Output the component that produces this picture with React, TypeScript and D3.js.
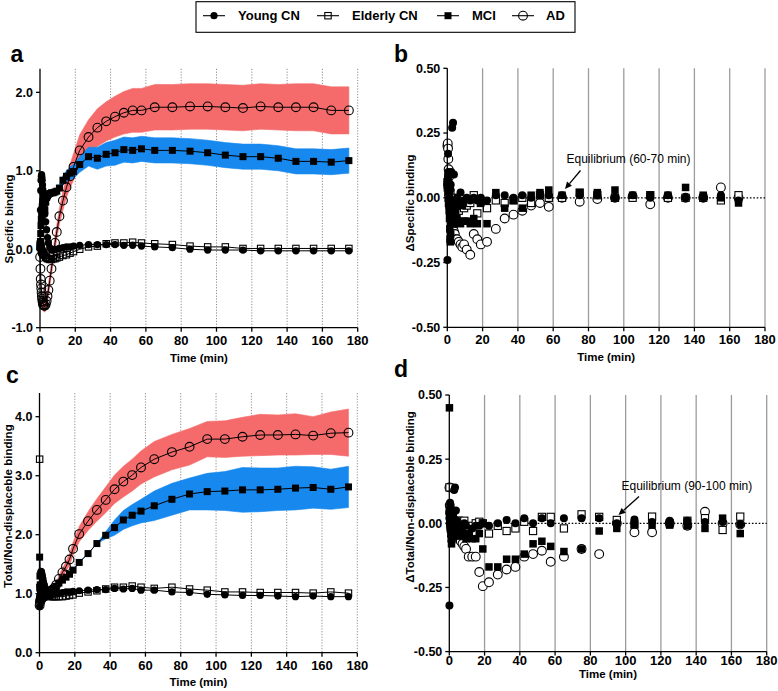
import React from 'react';
import * as d3 from 'd3';

// ---------- DATA ----------
const times = [0.08, 0.25, 0.42, 0.58, 0.75, 0.92, 1.08, 1.25, 1.42, 1.58, 1.75, 1.92,
  2.25, 2.75, 3.25, 3.75, 4.25, 4.75,
  5.5, 6.5, 7.5, 8.5, 9.5,
  11, 13, 15, 17, 19,
  22.5, 27.5, 32.5, 37.5, 42.5, 47.5, 52.5, 57.5,
  65, 75, 85, 95, 105, 115, 125, 135, 145, 155, 165, 175];
const deltaTimes = times.slice(0, 47);

const groups = ['Young CN', 'Elderly CN', 'MCI', 'AD'];
const xTicks = [0, 20, 40, 60, 80, 100, 120, 140, 160, 180];
const specTicks = [-1, 0, 1, 2];
const totTicks = [0, 1, 2, 3, 4];
const deltaTicks = [-0.5, -0.25, 0, 0.25, 0.5];

// Panel a: specific binding
const specYoung = [0.02, 0.5, 0.75, 0.88, 0.93, 0.95, 0.92, 0.88, 0.82, 0.76, 0.7, 0.64,
  0.55, 0.45, 0.35, 0.25, 0.15, 0.08,
  0.02, -0.01, -0.01, 0.0, 0.0,
  0.01, 0.02, 0.03, 0.03, 0.04,
  0.05, 0.06, 0.06, 0.06, 0.06, 0.05, 0.05, 0.04,
  0.03, 0.02, 0.0, -0.01, -0.01, -0.01, -0.02, -0.02, -0.02, -0.02, -0.02, -0.02];
const specElderly = [0.05, 0.07, 0.05, 0.03, 0.0, -0.02, -0.03, -0.04, -0.04, -0.05, -0.05, -0.06,
  -0.07, -0.08, -0.1, -0.11, -0.12, -0.12,
  -0.13, -0.13, -0.12, -0.12, -0.11,
  -0.1, -0.08, -0.07, -0.05, -0.03,
  0.0, 0.03, 0.04, 0.07, 0.08, 0.08, 0.09, 0.08,
  0.07, 0.06, 0.04, 0.03, 0.03, 0.01, 0.01, 0.01, 0.01, 0.01, 0.01, 0.01];
const specMCI = [0.02, 0.1, 0.2, 0.3, 0.38, 0.45, 0.5, 0.54, 0.57, 0.6, 0.62, 0.64,
  0.55, 0.5, 0.6, 0.66, 0.68, 0.7,
  0.71, 0.72, 0.72, 0.73, 0.74,
  0.78, 0.88, 0.93, 0.97, 0.99,
  1.08, 1.18, 1.16, 1.21, 1.23, 1.27, 1.26, 1.28,
  1.26, 1.26, 1.25, 1.23, 1.2, 1.18, 1.18, 1.16, 1.12, 1.12, 1.11, 1.13];
const specMCISd = [0.02, 0.02, 0.02, 0.02, 0.02, 0.02, 0.02, 0.02, 0.02, 0.02, 0.02, 0.02,
  0.03, 0.03, 0.03, 0.03, 0.03, 0.03,
  0.03, 0.03, 0.04, 0.04, 0.04,
  0.05, 0.06, 0.07, 0.08, 0.09,
  0.1, 0.12, 0.14, 0.15, 0.16, 0.16, 0.16, 0.16,
  0.16, 0.16, 0.16, 0.16, 0.16, 0.16, 0.16, 0.16, 0.16, 0.16, 0.16, 0.16];
const specAD = [-0.1, -0.25, -0.38, -0.45, -0.5, -0.55, -0.6, -0.63, -0.66, -0.68, -0.7, -0.71,
  -0.72, -0.72, -0.7, -0.66, -0.6, -0.52,
  -0.4, -0.25, -0.08, 0.08, 0.22,
  0.42, 0.62, 0.79, 0.93, 1.05,
  1.26, 1.43, 1.55, 1.63, 1.69, 1.74, 1.77, 1.77,
  1.81, 1.81, 1.82, 1.82, 1.81, 1.8, 1.82, 1.81, 1.81, 1.81, 1.77, 1.77];
const specADSd = [0.05, 0.05, 0.06, 0.06, 0.06, 0.06, 0.07, 0.07, 0.07, 0.07, 0.07, 0.07,
  0.08, 0.08, 0.08, 0.08, 0.08, 0.08,
  0.08, 0.08, 0.08, 0.09, 0.09,
  0.1, 0.12, 0.13, 0.15, 0.17,
  0.2, 0.22, 0.24, 0.25, 0.26, 0.27, 0.28, 0.28,
  0.29, 0.29, 0.29, 0.29, 0.29, 0.29, 0.29, 0.29, 0.3, 0.3, 0.3, 0.3];

// Panel c: total / non-displaceable binding
const totYoung = [0.78, 0.95, 1.15, 1.3, 1.36, 1.38, 1.37, 1.35, 1.32, 1.3, 1.27, 1.25,
  1.2, 1.15, 1.1, 1.05, 1.02, 1.0,
  0.98, 0.98, 0.99, 1.0, 1.0,
  1.01, 1.02, 1.03, 1.03, 1.04,
  1.05, 1.06, 1.07, 1.07, 1.09, 1.08, 1.09, 1.06,
  1.06, 1.03, 1.02, 0.99, 0.98, 0.97, 0.97, 0.96, 0.95, 0.96, 0.95, 0.95];
const totElderly = [3.28, 1.1, 0.95, 0.92, 0.9, 0.9, 0.91, 0.92, 0.93, 0.93, 0.94, 0.94,
  0.95, 0.95, 0.96, 0.96, 0.96, 0.96,
  0.96, 0.95, 0.95, 0.95, 0.95,
  0.95, 0.95, 0.96, 0.97, 0.98,
  1.01, 1.03, 1.05, 1.08, 1.11, 1.11, 1.13, 1.11,
  1.09, 1.11, 1.08, 1.06, 1.03, 1.03, 1.02, 1.02, 1.02, 1.01, 1.03, 1.01];
const totMCI = [1.62, 1.3, 1.15, 1.05, 1.0, 0.98, 0.97, 0.98, 1.0, 1.02, 1.04, 1.05,
  1.03, 1.0, 0.98, 0.98, 0.99, 1.0,
  1.0, 1.03, 1.06, 1.09, 1.12,
  1.18, 1.23, 1.28, 1.33, 1.4,
  1.53, 1.68, 1.85, 1.99, 2.12, 2.25, 2.33, 2.4,
  2.49, 2.6, 2.69, 2.73, 2.74, 2.76, 2.76, 2.77, 2.79, 2.8, 2.77, 2.81];
const totMCISd = [0, 0, 0, 0, 0, 0, 0, 0, 0, 0, 0, 0,
  0, 0, 0, 0, 0, 0,
  0, 0, 0, 0, 0,
  0, 0, 0, 0, 0,
  0, 0, 0, 0.06, 0.13, 0.16, 0.18, 0.2,
  0.25, 0.27, 0.27, 0.31, 0.33, 0.38, 0.37, 0.36, 0.37, 0.35, 0.34, 0.35];
const totAD = [0.8, 0.85, 0.88, 0.9, 0.92, 0.93, 0.94, 0.95, 0.95, 0.96, 0.96, 0.97,
  0.97, 0.98, 0.99, 1.0, 1.01, 1.02,
  1.03, 1.05, 1.07, 1.1, 1.15,
  1.25, 1.36, 1.46, 1.58, 1.76,
  2.01, 2.23, 2.42, 2.59, 2.77, 2.9, 3.01, 3.14,
  3.28, 3.4, 3.49, 3.62, 3.62, 3.66, 3.69, 3.69, 3.7, 3.68, 3.72, 3.73];
const totADSd = [0.02, 0.02, 0.02, 0.02, 0.02, 0.02, 0.02, 0.02, 0.02, 0.02, 0.02, 0.02,
  0.03, 0.03, 0.03, 0.03, 0.03, 0.03,
  0.03, 0.03, 0.03, 0.03, 0.03,
  0.06, 0.07, 0.08, 0.1, 0.11,
  0.13, 0.16, 0.19, 0.22, 0.24, 0.26, 0.27, 0.28,
  0.3, 0.3, 0.31, 0.3, 0.31, 0.33, 0.35, 0.34, 0.35, 0.32, 0.36, 0.4];

// Panel b: delta specific binding
const dSpecYoung = [-0.24, 0.05, 0.17, 0.1, 0.06, 0.02, -0.03, 0.0, -0.05, 0.03, -0.08, 0.05,
  0.1, 0.27, 0.29, 0.09, -0.02, -0.1,
  0.0, -0.03, 0.02, -0.02, -0.01,
  0.0, -0.01, 0.0, -0.01, 0.0,
  -0.01, 0.01, 0.01, 0.0, 0.01, 0.0, 0.01, 0.01,
  0.01, 0.01, 0.01, 0.0, 0.01, 0.0, 0.01, 0.0, 0.0, 0.01, -0.01];
const dSpecElderly = [0.06, 0.04, 0.05, 0.02, 0.0, -0.02, 0.03, 0.01, -0.01, -0.03, 0.02, 0.0,
  -0.02, -0.04, -0.05, -0.03, -0.02, 0.0,
  -0.02, -0.05, -0.03, -0.02, -0.04,
  -0.03, -0.02, 0.01, -0.06, -0.02,
  -0.04, -0.01, -0.02, -0.01, 0.0, -0.02, 0.01, 0.0,
  0.0, 0.02, 0.01, 0.0, 0.0, 0.01, 0.0, 0.0, 0.0, -0.01, 0.01];
const dSpecMCI = [0.05, 0.06, 0.08, 0.09, 0.03, -0.02, -0.05, -0.08, -0.12, -0.16, -0.17, -0.14,
  -0.1, -0.06, -0.03, -0.01, -0.03, -0.05,
  -0.08, -0.09, -0.1, -0.03, -0.09,
  -0.09, -0.1, -0.08, -0.1, -0.02,
  -0.1, 0.02, -0.04, -0.01, -0.04, 0.01, 0.02, 0.03,
  0.01, 0.02, 0.02, 0.03, 0.01, 0.01, 0.01, 0.04, 0.01, 0.0, -0.02];
const dSpecAD = [0.2, 0.21, 0.19, 0.15, 0.11, 0.08, 0.05, 0.03, 0.0, -0.02, -0.04, -0.06,
  -0.08, -0.1, -0.12, -0.13, -0.14, -0.16,
  -0.16, -0.17, -0.18, -0.19, -0.18,
  -0.2, -0.22, -0.14, -0.16, -0.18,
  -0.17, -0.12, -0.08, -0.065, -0.05, -0.03, -0.02, -0.035,
  0.0, -0.015, -0.005, 0.0, 0.005, -0.025, 0.0, 0.0, 0.0, 0.04, 0.0];

// Panel d: delta total / non-displaceable binding
const dTotYoung = [-0.32, 0.05, 0.08, 0.06, 0.03, 0.0, -0.03, -0.05, -0.07, -0.04, -0.02, 0.02,
  0.04, 0.13, 0.14, 0.05, 0.01, -0.02,
  -0.01, -0.02, -0.01, 0.0, -0.01,
  -0.04, -0.02, -0.01, -0.01, 0.0,
  -0.01, 0.0, 0.013, 0.0, 0.02, 0.0, 0.02, 0.0,
  0.02, 0.02, 0.02, 0.0, 0.015, 0.005, 0.01, 0.01, 0.005, 0.005, -0.005];
const dTotElderly = [0.14, 0.06, 0.03, 0.02, 0.01, 0.0, -0.01, -0.02, 0.01, 0.0, -0.03, 0.02,
  0.01, -0.01, 0.0, 0.01, -0.02, 0.0,
  0.01, -0.01, 0.0, 0.01, -0.02,
  -0.03, -0.01, 0.0, 0.006, 0.0,
  -0.04, -0.01, -0.03, -0.02, 0.006, -0.03, 0.025, 0.025,
  -0.02, 0.035, 0.025, 0.013, -0.005, 0.026, 0.0, 0.01, 0.02, -0.026, 0.026];
const dTotMCI = [0.45, 0.05, 0.03, 0.0, -0.02, -0.04, -0.06, -0.08, -0.05, -0.03, 0.0, 0.02,
  0.01, -0.01, -0.02, -0.03, -0.04, -0.05,
  -0.03, -0.02, -0.04, -0.05, -0.06,
  -0.05, -0.06, -0.06, -0.04, -0.1,
  -0.17, -0.17, -0.14, -0.14, -0.12, -0.08, -0.07, -0.09,
  -0.11, -0.1, -0.03, -0.02, -0.005, -0.007, -0.007, -0.01, -0.02, 0.02, -0.04];
const dTotAD = [0.14, 0.07, 0.04, 0.02, 0.0, -0.01, -0.02, -0.03, -0.02, -0.01, 0.0, 0.02,
  0.01, -0.01, -0.02, -0.03, -0.04, -0.05,
  -0.05, -0.07, -0.08, -0.09, -0.1,
  -0.13, -0.13, -0.13, -0.19, -0.245,
  -0.23, -0.2, -0.18, -0.17, -0.13, -0.12, -0.107, -0.15,
  -0.13, -0.1, -0.12, 0.0, -0.035, -0.035, 0.0, -0.01, 0.045, 0.0, -0.005];

// ---------- STYLE ----------
const FONT = "'Liberation Sans', Arial, Helvetica, sans-serif";
const RED = '#f56b6b';
const BLUE = '#1688ee';

type Kind = 'fcircle' | 'osquare' | 'fsquare' | 'ocircle';
const kindOf: Record<string, Kind> = {
  'Young CN': 'fcircle', 'Elderly CN': 'osquare', 'MCI': 'fsquare', 'AD': 'ocircle',
};

function Marker({ kind, cx, cy, big }: { kind: Kind; cx: number; cy: number; big?: boolean }) {
  const sw = 1.1;
  const openFill = big ? '#fff' : 'none';
  if (kind === 'fcircle') return <circle cx={cx} cy={cy} r={big ? 4 : 3.6} fill="#000" />;
  if (kind === 'ocircle') return <circle cx={cx} cy={cy} r={4.4} fill={openFill} stroke="#000" strokeWidth={sw} />;
  const s = kind === 'fsquare' ? (big ? 7.5 : 7) : (big ? 7.2 : 6.4);
  if (kind === 'fsquare') return <rect x={cx - s / 2} y={cy - s / 2} width={s} height={s} fill="#000" />;
  return <rect x={cx - s / 2} y={cy - s / 2} width={s} height={s} fill={openFill} stroke="#000" strokeWidth={sw} />;
}

interface Series { name: string; values: number[] }
interface Band { values: number[]; sd: number[]; color: string }
interface PanelCfg {
  x0: number; x1: number; yBottom: number; yTop: number; yDomain: [number, number];
  yTicks: number[]; digits: number; delta: boolean;
  tickBase: number; titleBase: number;
  ylabel: string; ylabelX: number; ylabelY: number;
  letter: string; letterX: number; letterY: number;
  series: Series[]; bands: Band[]; t: number[];
  annot?: { text: string; tx: number; ty: number; ax0: number; ay0: number; ax1: number; ay1: number };
}

function Panel({ c }: { c: PanelCfg }) {
  const x = d3.scaleLinear().domain([0, 180]).range([c.x0, c.x1]);
  const y = d3.scaleLinear().domain(c.yDomain).range([c.yBottom, c.yTop]);
  const line = d3.line<number>().x((_, i) => x(c.t[i])).y((v) => y(v));
  const els: React.ReactNode[] = [];

  // grid lines
  xTicks.filter((t) => t > 0).forEach((t) => {
    els.push(
      <line key={'g' + t} x1={x(t)} x2={x(t)} y1={c.yTop} y2={c.yBottom}
        stroke={c.delta ? '#9c9c9c' : '#808080'} strokeWidth={c.delta ? 1.3 : 0.9}
        strokeDasharray={c.delta ? undefined : '1.2,1.6'} />
    );
  });
  // bands
  c.bands.forEach((b, bi) => {
    const area = d3.area<number>()
      .x((_, i) => x(c.t[i]))
      .y0((v, i) => y(v - b.sd[i]))
      .y1((v, i) => y(v + b.sd[i]))
      .curve(d3.curveLinear);
    els.push(<path key={'b' + bi} d={area(b.values) || ''} fill={b.color} stroke={b.color} strokeWidth={0.6} />);
  });
  // zero line
  if (c.delta) {
    els.push(<line key="zero" x1={c.x0} x2={c.x1} y1={y(0)} y2={y(0)} stroke="#000" strokeWidth={1.2} strokeDasharray="1.6,1.8" />);
  }
  // series
  c.series.forEach((s) => {
    if (!c.delta) {
      els.push(<path key={'l' + s.name} d={line(s.values) || ''} fill="none" stroke="#000" strokeWidth={1} />);
    }
    s.values.forEach((v, i) => {
      els.push(<Marker key={'m' + s.name + i} kind={kindOf[s.name]} cx={x(c.t[i])} cy={y(v)} big={c.delta} />);
    });
  });
  // axes
  els.push(<line key="ya" x1={c.x0} x2={c.x0} y1={c.yTop} y2={c.yBottom} stroke="#000" strokeWidth={1.3} />);
  els.push(<line key="xa" x1={c.x0} x2={c.x1} y1={c.yBottom} y2={c.yBottom} stroke="#000" strokeWidth={1.3} />);
  c.yTicks.forEach((t) => {
    els.push(<line key={'yt' + t} x1={c.x0 - 4} x2={c.x0} y1={y(t)} y2={y(t)} stroke="#000" strokeWidth={1.3} />);
    els.push(
      <text key={'yl' + t} x={c.x0 - 7} y={y(t)} dy="0.35em" textAnchor="end"
        fontFamily={FONT} fontWeight="bold" fontSize={12.5}>{t.toFixed(c.digits)}</text>
    );
  });
  xTicks.forEach((t) => {
    els.push(<line key={'xt' + t} x1={x(t)} x2={x(t)} y1={c.yBottom} y2={c.yBottom + 4} stroke="#000" strokeWidth={1.3} />);
    els.push(
      <text key={'xl' + t} x={x(t)} y={c.tickBase} textAnchor="middle"
        fontFamily={FONT} fontWeight="bold" fontSize={13}>{String(t)}</text>
    );
  });
  els.push(
    <text key="xtitle" x={(c.x0 + c.x1) / 2} y={c.titleBase} textAnchor="middle"
      fontFamily={FONT} fontWeight="bold" fontSize={11.5}>Time (min)</text>
  );
  els.push(
    <text key="ytitle" transform={`translate(${c.ylabelX},${c.ylabelY}) rotate(-90)`} textAnchor="middle"
      fontFamily={FONT} fontWeight="bold" fontSize={11.5}>{c.ylabel}</text>
  );
  els.push(
    <text key="letter" x={c.letterX} y={c.letterY} fontFamily={FONT} fontWeight="bold" fontSize={23}>{c.letter}</text>
  );
  if (c.annot) {
    const a = c.annot;
    const ang = Math.atan2(a.ay1 - a.ay0, a.ax1 - a.ax0);
    const hl = 7, hw = 3.2;
    const bx = a.ax1 - hl * Math.cos(ang), by = a.ay1 - hl * Math.sin(ang);
    const px = -Math.sin(ang) * hw, py = Math.cos(ang) * hw;
    els.push(<text key="at" x={a.tx} y={a.ty} fontFamily={FONT} fontSize={12}>{a.text}</text>);
    els.push(<line key="al" x1={a.ax0} y1={a.ay0} x2={bx} y2={by} stroke="#000" strokeWidth={1.3} />);
    els.push(<polygon key="ah" points={`${a.ax1},${a.ay1} ${bx + px},${by + py} ${bx - px},${by - py}`} fill="#000" />);
  }
  return <g>{els}</g>;
}

function Legend() {
  const items = [
    { name: groups[0], sx: 214, tx: 238 },
    { name: groups[1], sx: 328, tx: 352 },
    { name: groups[2], sx: 448, tx: 472 },
    { name: groups[3], sx: 523, tx: 546 },
  ];
  return (
    <g>
      <rect x={196} y={1.7} width={379} height={30.6} fill="#fff" stroke="#000" strokeWidth={1.1} />
      {items.map((it) => (
        <g key={it.name}>
          <line x1={it.sx - 11} x2={it.sx + 11} y1={15.7} y2={15.7} stroke="#000" strokeWidth={1.1} />
          <Marker kind={kindOf[it.name]} cx={it.sx} cy={15.7} />
          <text x={it.tx} y={20.2} fontFamily={FONT} fontWeight="bold" fontSize={13}>{it.name}</text>
        </g>
      ))}
    </g>
  );
}

export default function App() {
  const panels: PanelCfg[] = [
    {
      x0: 40, x1: 357.7, yBottom: 327.7, yTop: 68.8, yDomain: [-1, 2.3], yTicks: specTicks, digits: 1, delta: false,
      tickBase: 344.5, titleBase: 362, ylabel: 'Specific binding', ylabelX: 12.5, ylabelY: 219,
      letter: 'a', letterX: 10.5, letterY: 62, t: times,
      bands: [{ values: specAD, sd: specADSd, color: RED }, { values: specMCI, sd: specMCISd, color: BLUE }],
      series: [{ name: 'Elderly CN', values: specElderly }, { name: 'Young CN', values: specYoung },
        { name: 'MCI', values: specMCI }, { name: 'AD', values: specAD }],
    },
    {
      x0: 447.3, x1: 765, yBottom: 327.3, yTop: 68.3, yDomain: [-0.5, 0.5], yTicks: deltaTicks, digits: 2, delta: true,
      tickBase: 343.5, titleBase: 361, ylabel: '\u0394Specific binding', ylabelX: 414, ylabelY: 203,
      letter: 'b', letterX: 394, letterY: 61.5, t: deltaTimes, bands: [],
      series: [{ name: 'AD', values: dSpecAD }, { name: 'Elderly CN', values: dSpecElderly },
        { name: 'MCI', values: dSpecMCI }, { name: 'Young CN', values: dSpecYoung }],
      annot: { text: 'Equilibrium (60-70 min)', tx: 566.5, ty: 162.5, ax0: 580.5, ay0: 170.5, ax1: 565, ay1: 189 },
    },
    {
      x0: 39.5, x1: 357.3, yBottom: 652.7, yTop: 393.1, yDomain: [0, 4.4], yTicks: totTicks, digits: 1, delta: false,
      tickBase: 670, titleBase: 686, ylabel: 'Total/Non-displaceble binding', ylabelX: 11.5, ylabelY: 506,
      letter: 'c', letterX: 6, letterY: 383, t: times,
      bands: [{ values: totAD, sd: totADSd, color: RED }, { values: totMCI, sd: totMCISd, color: BLUE }],
      series: [{ name: 'Elderly CN', values: totElderly }, { name: 'Young CN', values: totYoung },
        { name: 'MCI', values: totMCI }, { name: 'AD', values: totAD }],
    },
    {
      x0: 449.3, x1: 766.7, yBottom: 651.6, yTop: 395, yDomain: [-0.5, 0.5], yTicks: deltaTicks, digits: 2, delta: true,
      tickBase: 664.5, titleBase: 678, ylabel: '\u0394Total/Non-displaceble binding', ylabelX: 414, ylabelY: 497,
      letter: 'd', letterX: 394, letterY: 377, t: deltaTimes, bands: [],
      series: [{ name: 'AD', values: dTotAD }, { name: 'Elderly CN', values: dTotElderly },
        { name: 'MCI', values: dTotMCI }, { name: 'Young CN', values: dTotYoung }],
      annot: { text: 'Equilibrium (90-100 min)', tx: 621.5, ty: 489.5, ax0: 639, ay0: 496.5, ax1: 618.5, ay1: 515 },
    },
  ];
  return (
    <svg width={778} height={691} style={{ position: 'absolute', left: 0, top: 0, background: '#fff' }}>
      <rect x={0} y={0} width={778} height={691} fill="#fff" />
      <Legend />
      {panels.map((p, i) => <Panel key={i} c={p} />)}
    </svg>
  );
}
